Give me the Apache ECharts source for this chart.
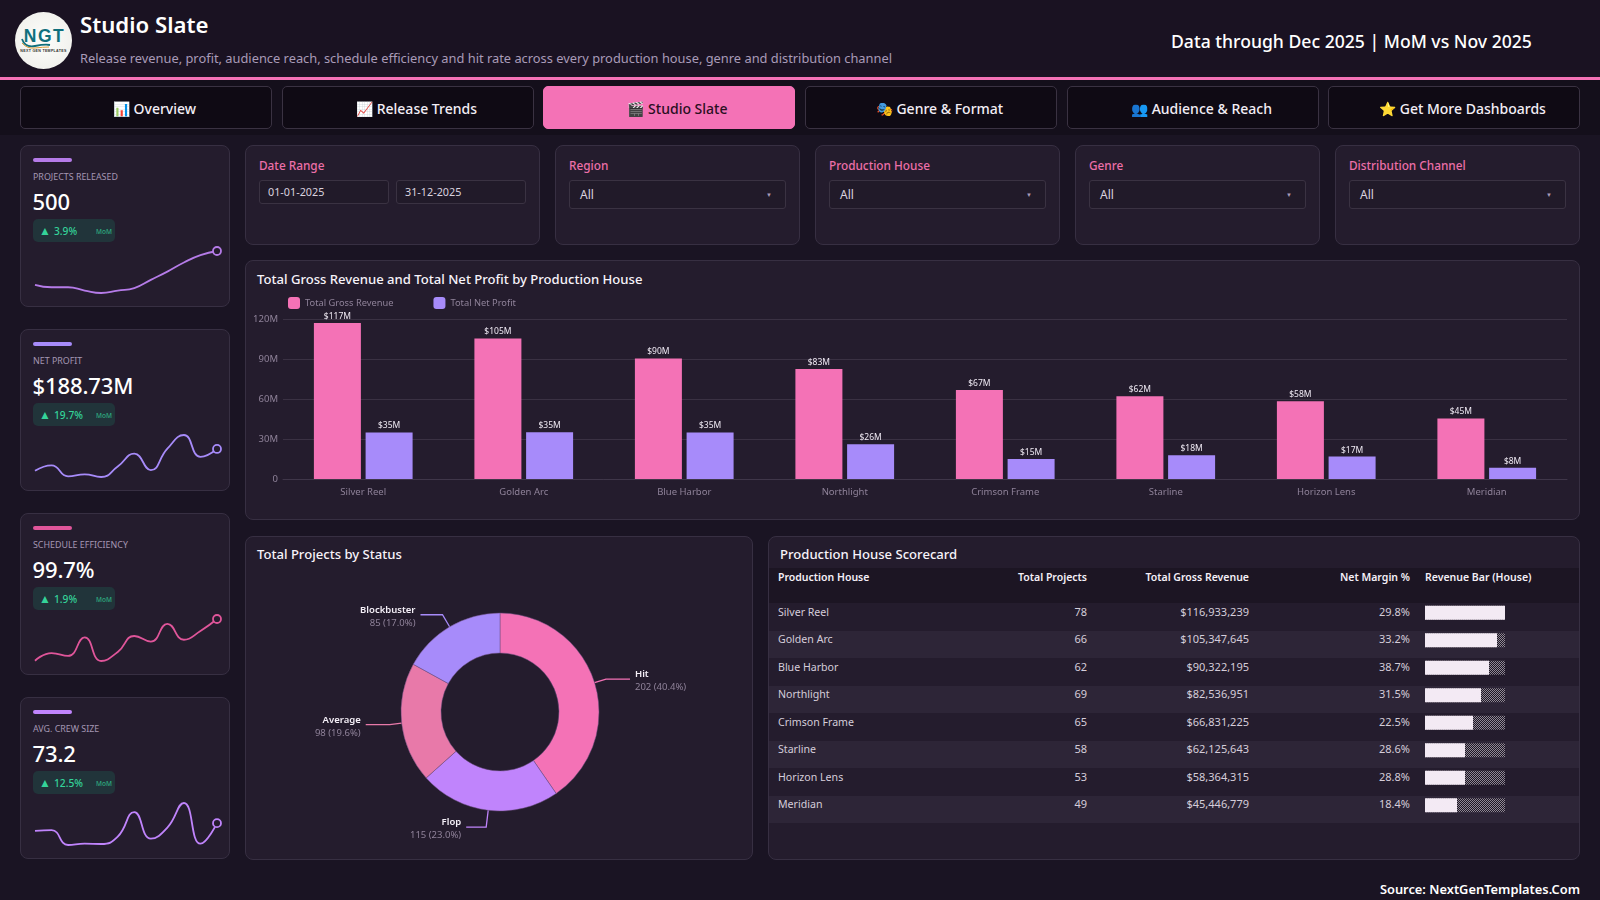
<!DOCTYPE html>
<html>
<head>
<meta charset="utf-8">
<title>Studio Slate</title>
<script src="https://cdn.jsdelivr.net/npm/echarts@6/dist/echarts.min.js"></script>
<style>
* { box-sizing: border-box; margin: 0; padding: 0; }
html, body { width: 1600px; height: 900px; overflow: hidden; background: #1a1423; color: #fff; font-family: "Noto Sans", sans-serif; }
.abs { position: absolute; }
#header { left: 0; top: 0; width: 1600px; height: 80px; background: #1a1222; border-bottom: 3px solid #f472b6; }
#logo { left: 15px; top: 12px; width: 57px; height: 57px; border-radius: 50%; background: radial-gradient(circle at 50% 50%, #fdfdfb 0%, #f2f2ee 70%, #c9c9c4 100%); text-align: center; }
#logo b { position: absolute; left: 2px; right: 0; top: 15px; font: 800 17.5px/19px "Liberation Sans", sans-serif; letter-spacing: 1.5px; color: #0f6f7c; }
#logo svg { position: absolute; left: 6px; top: 24px; }
#logo i { position: absolute; left: 0; right: 0; top: 37px; font: 700 3.6px/5px "Liberation Sans", sans-serif; color: #333; font-style: normal; letter-spacing: .3px; }
#title { left: 80px; top: 8px; font-size: 22.2px; line-height: 34px; font-weight: 600; }
#subtitle { left: 80px; top: 48px; font-size: 12.85px; line-height: 20px; color: #a99bb8; }
#through { left: 1171px; top: 27px; font-size: 17.6px; line-height: 28px; font-weight: 500; }
#navbar { left: 0; top: 80px; width: 1600px; height: 55px; background: #140f1b; }
.nav { top: 86px; width: 252px; height: 43px; border: 1px solid #3a3242; border-radius: 5px; background: #0f0a14; font-size: 14px; line-height: 43px; font-weight: 500; text-align: center; color: #f3eef6; padding-left: 17px; }
.nav.on { background: #f472b6; border-color: #f472b6; color: #2a0f22; }
.card { background: #241c2d; border: 1px solid #372f42; border-radius: 8px; }
.accent { left: 12px; top: 12px; width: 39px; height: 4px; border-radius: 2px; }
.klabel { left: 12px; top: 24px; font-size: 8.9px; line-height: 14px; color: #a597b3; text-transform: uppercase; }
.kvalue { left: 11.5px; top: 37.5px; font-size: 22px; line-height: 34px; font-weight: 500; letter-spacing: -0.1px; }
.badge { left: 12px; top: 73px; width: 82px; height: 23px; border-radius: 5px; background: #21343a; color: #34d399; font-size: 10.2px; line-height: 24px; padding-left: 21px; font-weight: 500; }
.badge em { position: absolute; left: 6px; top: 0; font-style: normal; font-size: 12px; }
.badge span { position: absolute; left: 63px; top: 1px; font-size: 6.5px; opacity: .75; }
.spark { left: 0; top: 90px; width: 210px; height: 70px; }
.flabel { left: 13px; top: 10px; font-size: 11.8px; line-height: 18px; font-weight: 500; color: #ec6fa8; }
.box { border: 1px solid #3a3242; border-radius: 3px; background: #211a29; color: #d9d2df; }
.date { top: 34px; width: 130px; height: 24px; font-size: 10.8px; line-height: 22px; padding-left: 8px; }
.sel { left: 13px; top: 34px; height: 29px; font-size: 12px; line-height: 28px; padding-left: 10px; }
.sel span { position: absolute; right: 13px; top: 0; font-size: 6px; color: #a99bb8; }
.ctitle { font-size: 13.1px; line-height: 20px; font-weight: 500; color: #f7f3fa; }
#table { left: 769px; top: 568px; width: 810px; border-collapse: collapse; table-layout: fixed; font-size: 11px; }
#table th { height: 35px; background: #1c1523; font-weight: 600; font-size: 10.5px; vertical-align: top; padding-top: 1px; line-height: 16px; color: #f4eff7; }
#table td { height: 27.5px; line-height: 16px; vertical-align: top; padding-top: 0.5px; color: #d5cdda; }
#table tr:nth-child(odd) td { background: #241c2d; }
#table tr:nth-child(even) td { background: #2d2537; }
#table td.l { font-size: 10.6px; }
#table .l { text-align: left; padding-left: 9px; }
#table .r { text-align: right; }
#table .b { text-align: left; padding-left: 15px; }
#source { right: 20px; top: 879px; font-size: 12.85px; line-height: 20px; font-weight: 600; }
</style>
</head>
<body>
<div id="header" class="abs"></div>
<div id="logo" class="abs"><b>NGT</b><svg width="30" height="14" viewBox="0 0 30 14"><path d="M1 3 Q4 12 14 10 T29 9" fill="none" stroke="#0f6f7c" stroke-width="1.8"/><path d="M1 7 Q6 13 14 12 T28 11" fill="none" stroke="#d79a3a" stroke-width="1"/></svg><i>NEXT GEN TEMPLATES</i></div>
<div id="title" class="abs">Studio Slate</div>
<div id="subtitle" class="abs">Release revenue, profit, audience reach, schedule efficiency and hit rate across every production house, genre and distribution channel</div>
<div id="through" class="abs">Data through Dec 2025 | MoM vs Nov 2025</div>
<div id="navbar" class="abs"></div>
<div id="navs"></div>
<div id="kpis"></div>
<div id="filters"></div>

<div class="abs card" style="left:245px;top:260px;width:1335px;height:260px"></div>
<div class="abs ctitle" style="left:257px;top:269px">Total Gross Revenue and Total Net Profit by Production House</div>
<div id="barChart" class="abs" style="left:245px;top:260px;width:1335px;height:260px"></div>

<div class="abs card" style="left:245px;top:536px;width:508px;height:324px"></div>
<div class="abs ctitle" style="left:257px;top:544px">Total Projects by Status</div>
<div id="pieChart" class="abs" style="left:245px;top:536px;width:508px;height:324px"></div>

<div class="abs card" style="left:768px;top:536px;width:812px;height:324px"></div>
<div class="abs ctitle" style="left:780px;top:543.5px">Production House Scorecard</div>
<table id="table" class="abs">
  <colgroup><col style="width:200px"><col style="width:118px"><col style="width:162px"><col style="width:161px"><col style="width:169px"></colgroup>
  <thead><tr><th class="l">Production House</th><th class="r">Total Projects</th><th class="r">Total Gross Revenue</th><th class="r">Net Margin %</th><th class="b">Revenue Bar (House)</th></tr></thead>
  <tbody id="rows"></tbody>
</table>
<div id="tableBars" class="abs" style="left:1425px;top:599px;width:80px;height:220px"></div>

<div id="source" class="abs">Source: NextGenTemplates.Com</div>

<script>
const navLabels = ['📊 Overview', '📈 Release Trends', '🎬 Studio Slate', '🎭 Genre & Format', '👥 Audience & Reach', '⭐ Get More Dashboards'];
const navLeft = [20, 282, 543, 805, 1067, 1328];

const kpiNames = ['Projects Released', 'Net Profit', 'Schedule Efficiency', 'Avg. Crew Size'];
const kpiValues = ['500', '$188.73M', '99.7%', '73.2'];
const kpiChanges = ['3.9%', '19.7%', '1.9%', '12.5%'];
const kpiTop = [145, 329, 513, 697];
const kpiColors = ['#b57be8', '#a78bfa', '#e0559a', '#c084fc'];
const projectsTrend = [34, 31, 31, 27, 24, 27, 30, 40, 50, 61, 70, 75];
const profitTrend = [9.1, 13.2, 4.9, 6.4, 4.4, 12.3, 22.0, 9.6, 25.7, 36.0, 19.6, 25.5];
const scheduleTrend = [98.11, 98.40, 98.29, 98.99, 98.10, 98.44, 99.04, 98.83, 99.50, 98.90, 99.23, 99.68];
const crewTrend = [65, 65.7, 51, 52.3, 52, 59.3, 83.7, 57.3, 68.3, 92.7, 52.3, 72.7];

const filterNames = ['Region', 'Production House', 'Genre', 'Distribution Channel'];
const filterLeft = [555, 815, 1075, 1335];

const houses = ['Silver Reel', 'Golden Arc', 'Blue Harbor', 'Northlight', 'Crimson Frame', 'Starline', 'Horizon Lens', 'Meridian'];
const grossRevenue = [116933239, 105347645, 90322195, 82536951, 66831225, 62125643, 58364315, 45446779];
const netProfit = [34.85, 34.98, 34.95, 26.0, 15.04, 17.77, 16.8, 8.36];
const totalProjects = [78, 66, 62, 69, 65, 58, 53, 49];
const netMargin = [29.8, 33.2, 38.7, 31.5, 22.5, 28.6, 28.8, 18.4];
// the scorecard bar is stepped in tenths of the largest house
const revenueBlocks = [10, 9, 8, 7, 6, 5, 5, 4];

const statusNames = ['Hit', 'Flop', 'Average', 'Blockbuster'];
const statusCounts = [202, 115, 98, 85];
const statusColors = ['#f472b6', '#c084fc', '#e879a9', '#a78bfa'];
const statusLineFirst = [12, 17, 12, 14];
const statusLineSecond = [24, 20, 24, 22];

// page furniture
let html = '';
navLabels.forEach((t, i) => {
    html += `<div class="abs nav${i === 2 ? ' on' : ''}" style="left:${navLeft[i]}px">${t.replace('&', '&amp;')}</div>`;
});
document.getElementById('navs').innerHTML = html;

html = '';
kpiNames.forEach((name, i) => {
    html += `<div class="abs card" style="left:20px;top:${kpiTop[i]}px;width:210px;height:162px">
        <div class="abs accent" style="background:${kpiColors[i]}"></div>
        <div class="abs klabel">${name}</div>
        <div class="abs kvalue">${kpiValues[i]}</div>
        <div class="abs badge"><em>▲</em>${kpiChanges[i]}<span>MoM</span></div>
        <div class="abs spark" id="spark${i}"></div>
    </div>`;
});
document.getElementById('kpis').innerHTML = html;

html = `<div class="abs card" style="left:245px;top:145px;width:295px;height:100px">
    <div class="abs flabel">Date Range</div>
    <div class="abs box date" style="left:13px">01-01-2025</div>
    <div class="abs box date" style="left:150px">31-12-2025</div>
</div>`;
filterNames.forEach((name, i) => {
    html += `<div class="abs card" style="left:${filterLeft[i]}px;top:145px;width:245px;height:100px">
        <div class="abs flabel">${name}</div>
        <div class="abs box sel" style="width:217px">All<span>▼</span></div>
    </div>`;
});
document.getElementById('filters').innerHTML = html;

document.getElementById('rows').innerHTML = houses.map((h, i) => `<tr>
    <td class="l">${h}</td>
    <td class="r">${totalProjects[i]}</td>
    <td class="r">$${grossRevenue[i].toLocaleString('en-US')}</td>
    <td class="r">${netMargin[i].toFixed(1)}%</td>
    <td></td>
</tr>`).join('');

// sparklines
[projectsTrend, profitTrend, scheduleTrend, crewTrend].forEach((trend, i) => {
    const chart = echarts.init(document.getElementById('spark' + i));
    chart.setOption({
        animation: false,
        grid: { left: 14, right: 14, top: 15, bottom: 13 },
        xAxis: { type: 'category', show: false, boundaryGap: false, data: trend.map((v, k) => k) },
        yAxis: { type: 'value', show: false, scale: true, min: 'dataMin', max: 'dataMax' },
        series: [{
            type: 'line',
            data: trend,
            smooth: true,
            showAllSymbol: true,
            symbol: (v, p) => p.dataIndex === trend.length - 1 ? 'circle' : 'none',
            symbolSize: 8,
            lineStyle: { color: kpiColors[i], width: 1.8 },
            itemStyle: { color: '#241c2d', borderColor: kpiColors[i], borderWidth: 1.8 }
        }]
    });
});

// revenue and profit bars
const barChart = echarts.init(document.getElementById('barChart'));
const barLabel = {
    show: true,
    position: 'top',
    distance: 2,
    fontSize: 8.5,
    color: '#efe9f3',
    fontFamily: 'Noto Sans',
    formatter: (p) => '$' + Math.round(p.value) + 'M'
};
barChart.setOption({
    animation: false,
    textStyle: { fontFamily: 'Noto Sans' },
    legend: {
        left: 38,
        top: 32,
        itemWidth: 12,
        itemHeight: 12,
        itemGap: 40,
        icon: 'roundRect',
        textStyle: { color: '#8f8299', fontSize: 9.3 },
        data: ['Total Gross Revenue', 'Total Net Profit']
    },
    grid: { left: 38, right: 13, top: 59, height: 160 },
    xAxis: {
        type: 'category',
        data: houses,
        axisTick: { show: false },
        axisLine: { lineStyle: { color: '#3f3649' } },
        axisLabel: { color: '#8f8299', fontSize: 9.5, margin: 8 }
    },
    yAxis: {
        type: 'value',
        min: 0,
        max: 120,
        interval: 30,
        splitLine: { lineStyle: { color: '#3a3143' } },
        axisLabel: { color: '#8f8299', fontSize: 9.5, margin: 5, formatter: (v) => v === 0 ? '0' : v + 'M' }
    },
    series: [
        { name: 'Total Gross Revenue', type: 'bar', barWidth: 47, barGap: '10%', data: grossRevenue.map((v) => v / 1e6), itemStyle: { color: '#f472b6' }, label: barLabel },
        { name: 'Total Net Profit', type: 'bar', barWidth: 47, data: netProfit, itemStyle: { color: '#a78bfa' }, label: barLabel }
    ]
});

// status donut
const statusTotal = statusCounts.reduce((a, b) => a + b, 0);
const pieChart = echarts.init(document.getElementById('pieChart'));
pieChart.setOption({
    animation: false,
    textStyle: { fontFamily: 'Noto Sans' },
    series: [{
        type: 'pie',
        center: [255, 176],
        radius: [59, 99],
        startAngle: 90,
        data: statusNames.map((n, i) => ({
            name: n,
            value: statusCounts[i],
            itemStyle: { color: statusColors[i] },
            labelLine: { length: statusLineFirst[i], length2: statusLineSecond[i], lineStyle: { color: statusColors[i], width: 1.3 } }
        })),
        itemStyle: { borderColor: '#6d4f80', borderWidth: 0.5 },
        label: {
            padding: [4, 0, 0, 0],
            formatter: (p) => `{n|${p.name}}\n{v|${p.value} (${(p.value / statusTotal * 100).toFixed(1)}%)}`,
            rich: {
                n: { color: '#f4eff7', fontSize: 9.5, fontWeight: 600, lineHeight: 13 },
                v: { color: '#8f8299', fontSize: 9.5, lineHeight: 13 }
            }
        }
    }]
});

// revenue bars in the scorecard
const ditherCanvas = document.createElement('canvas');
ditherCanvas.width = ditherCanvas.height = 2;
const ditherCtx = ditherCanvas.getContext('2d');
ditherCtx.fillStyle = '#1d1724';
ditherCtx.fillRect(0, 0, 2, 2);
ditherCtx.fillStyle = '#8f8795';
ditherCtx.fillRect(0, 0, 1, 1);
ditherCtx.fillRect(1, 1, 1, 1);

const tableBars = echarts.init(document.getElementById('tableBars'));
tableBars.setOption({
    animation: false,
    grid: { left: 0, right: 0, top: 0, bottom: 0 },
    xAxis: { type: 'value', show: false, min: 0, max: 10 },
    yAxis: { type: 'category', show: false, inverse: true, data: houses },
    series: [{
        type: 'bar',
        data: revenueBlocks,
        barWidth: 14,
        itemStyle: { color: '#f3eaf4' },
        showBackground: true,
        backgroundStyle: { color: { image: ditherCanvas, repeat: 'repeat' } }
    }]
});
</script>
</body>
</html>
